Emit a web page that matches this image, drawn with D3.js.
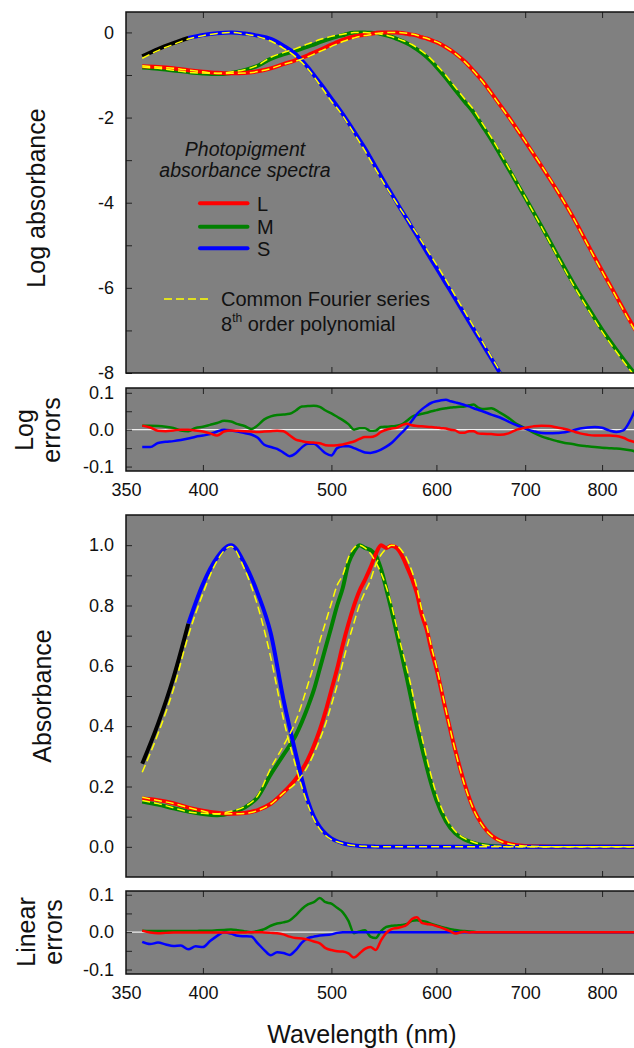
<!DOCTYPE html>
<html>
<head>
<meta charset="utf-8">
<script src="https://cdn.jsdelivr.net/npm/d3@7"></script>
<style>
  body { margin: 0; background: #fff; }
  svg { display: block; font-family: "Liberation Sans", Arial, sans-serif; }
</style>
</head>
<body>
<svg id="chart"></svg>
<script>
// ---- data ----
// wavelength grid for the spectra (nm)
const wl = [360,370,380,390,400,410,420,430,440,450,460,470,
  480,485,490,495,500,505,510,515,520,525,530,535,540,545,550,555,560,565,570,575,580,585,590,595,600,
  610,620,630,640,650,660,670,680,690,700,720,740,760,780,800,820,840,850];

// log10 photopigment absorbance, measured
const logL = [-0.796,-0.81,-0.84,-0.886,-0.921,-0.947,-0.959,-0.951,-0.914,-0.845,-0.745,-0.648,
  -0.538,-0.475,-0.412,-0.347,-0.284,-0.229,-0.174,-0.131,-0.097,-0.071,-0.053,-0.034,-0.013,0,-0.004,-0.001,-0.004,-0.015,-0.032,-0.051,-0.076,-0.114,-0.143,-0.187,-0.229,
  -0.347,-0.495,-0.678,-0.903,-1.143,-1.42,-1.70,-1.98,-2.27,-2.56,-3.14,-3.72,-4.32,-4.97,-5.6,-6.2,-6.78,-7.05];
const logM = [-0.824,-0.854,-0.893,-0.932,-0.963,-0.979,-0.951,-0.886,-0.782,-0.62,-0.516,-0.432,
  -0.333,-0.284,-0.229,-0.18,-0.137,-0.097,-0.066,-0.027,-0.009,0,-0.004,-0.007,-0.015,-0.036,-0.068,-0.105,-0.149,-0.197,-0.252,-0.319,-0.398,-0.481,-0.577,-0.688,-0.81,
  -1.07,-1.35,-1.62,-1.88,-2.2,-2.52,-2.86,-3.2,-3.54,-3.88,-4.55,-5.22,-5.86,-6.44,-6.98,-7.45,-7.88,-8.08];
const logS = [-0.56,-0.39,-0.252,-0.131,-0.06,-0.018,0,-0.027,-0.076,-0.15,-0.31,-0.51,
  -0.82,-1.0,-1.18,-1.36,-1.55,-1.73,-1.92,-2.12,-2.32,-2.52,-2.72,-2.94,-3.16,-3.38,-3.59,-3.79,-3.99,-4.19,-4.38,-4.58,-4.77,-4.97,-5.16,-5.35,-5.53,
  -5.9,-6.26,-6.62,-6.97,-7.32,-7.66,-8.0,-8.33,-8.65,-8.95,-9.55,-10.1,-10.6,-11.1,-11.5,-11.9,-12.3,-12.5];
const sBlackEnd = 390; // S data below this wavelength drawn in black

// common Fourier series fit, log10
const fitL = [-0.785,-0.813,-0.842,-0.886,-0.926,-0.963,-0.961,-0.955,-0.92,-0.849,-0.749,-0.675,
  -0.572,-0.51,-0.449,-0.389,-0.327,-0.271,-0.214,-0.167,-0.129,-0.096,-0.073,-0.054,-0.029,-0.014,-0.005,0,-0.001,-0.008,-0.02,-0.039,-0.066,-0.105,-0.135,-0.18,-0.223,
  -0.344,-0.497,-0.686,-0.907,-1.154,-1.432,-1.714,-1.99,-2.27,-2.555,-3.129,-3.714,-4.324,-4.984,-5.616,-6.217,-6.81,-7.085];
const fitM = [-0.813,-0.844,-0.888,-0.936,-0.955,-0.961,-0.929,-0.876,-0.77,-0.584,-0.475,-0.38,
  -0.269,-0.219,-0.167,-0.128,-0.093,-0.062,-0.045,-0.018,-0.004,0,-0.004,-0.012,-0.025,-0.042,-0.065,-0.096,-0.138,-0.183,-0.228,-0.284,-0.358,-0.438,-0.531,-0.638,-0.757,
  -1.012,-1.289,-1.557,-1.812,-2.144,-2.462,-2.814,-3.168,-3.525,-3.876,-4.568,-5.251,-5.899,-6.485,-7.029,-7.501,-7.936,-8.14];
const fitS = [-0.607,-0.426,-0.283,-0.155,-0.076,-0.023,-0.002,-0.036,-0.098,-0.202,-0.372,-0.574,
  -0.858,-1.04,-1.23,-1.424,-1.62,-1.78,-1.965,-2.165,-2.37,-2.576,-2.782,-3.003,-3.22,-3.434,-3.636,-3.826,-4.012,-4.198,-4.374,-4.556,-4.728,-4.915,-5.095,-5.277,-5.453,
  -5.819,-6.186,-6.553,-6.912,-7.27,-7.619,-7.967,-8.308,-8.64,-8.95,-9.56,-10.11,-10.61,-11.1,-11.5,-11.9,-12.3,-12.45];

// wavelength grid for the residuals (nm)
const errWl = [360,365,370,375,380,385,390,395,400,405,410,415,420,425,430,435,440,445,450,455,
  460,465,470,475,480,485,490,495,500,505,510,515,520,525,530,535,540,545,550,555,
  560,565,570,575,580,585,590,595,600,605,610,615,620,625,630,635,640,645,650,
  660,670,680,690,700,710,720,730,740,750,760,770,780,790,800,810,820,830,840,850];

const logErrL = [0.011,0.006,-0.003,-0.004,-0.002,0,0,-0.002,-0.005,-0.01,-0.016,-0.005,-0.002,-0.003,-0.004,-0.005,-0.006,-0.005,-0.004,-0.003,
  -0.004,-0.015,-0.027,-0.031,-0.034,-0.035,-0.037,-0.042,-0.043,-0.042,-0.04,-0.036,-0.032,-0.025,-0.02,-0.02,-0.016,-0.006,0,0.003,
  0.005,0.012,0.016,0.012,0.01,0.009,0.008,0.007,0.006,0.004,0.003,0,-0.002,-0.008,-0.008,-0.004,-0.004,-0.01,-0.011,
  -0.012,-0.014,-0.01,0,0.005,0.009,0.011,0.01,0.006,0.002,-0.004,-0.01,-0.014,-0.016,-0.016,-0.016,-0.017,-0.022,-0.03,-0.035];
const logErrM = [0.011,0.011,0.01,0.008,0.005,-0.002,-0.004,0.005,0.008,0.013,0.018,0.024,0.022,0.015,0.01,0.002,0.012,0.028,0.036,0.04,
  0.041,0.043,0.052,0.063,0.064,0.065,0.062,0.052,0.044,0.035,0.026,0.015,0,0.004,0.004,-0.003,-0.002,0.007,0.008,0.009,
  0.011,0.014,0.024,0.035,0.04,0.043,0.046,0.05,0.053,0.056,0.058,0.06,0.061,0.062,0.063,0.066,0.068,0.06,0.056,
  0.058,0.046,0.032,0.015,0.004,-0.008,-0.018,-0.025,-0.031,-0.036,-0.039,-0.043,-0.045,-0.047,-0.049,-0.05,-0.051,-0.053,-0.056,-0.06];
const logErrS = [-0.047,-0.047,-0.036,-0.033,-0.031,-0.028,-0.024,-0.019,-0.016,-0.012,-0.005,0,-0.002,-0.005,-0.009,-0.013,-0.022,-0.041,-0.047,-0.052,
  -0.062,-0.072,-0.064,-0.048,-0.038,-0.038,-0.05,-0.064,-0.07,-0.05,-0.045,-0.045,-0.05,-0.056,-0.062,-0.063,-0.06,-0.054,-0.046,-0.036,
  -0.022,-0.008,0.006,0.024,0.042,0.055,0.065,0.073,0.077,0.08,0.081,0.077,0.074,0.071,0.067,0.063,0.058,0.054,0.05,
  0.041,0.033,0.022,0.012,0.003,-0.004,-0.009,-0.01,-0.009,-0.007,-0.002,0.003,0.006,0.007,0.005,-0.002,-0.006,-0.002,0.025,0.065];

const linErrL = [0.004,-0.001,-0.003,-0.002,-0.001,-0.001,-0.001,-0.001,-0.001,-0.001,-0.001,-0.001,-0.001,-0.001,-0.001,0,0,-0.001,-0.002,-0.003,
  -0.006,-0.012,-0.016,-0.017,-0.02,-0.025,-0.03,-0.043,-0.048,-0.051,-0.052,-0.057,-0.068,-0.057,-0.045,-0.04,-0.048,-0.022,-0.002,0.008,
  0.011,0.014,0.02,0.035,0.04,0.025,0.022,0.02,0.016,0.012,0.007,0.002,-0.004,-0.001,0.001,-0.001,0,0,0,
  0,0,0,0,0,0,0,0,0,0,0,0,0,0,0,0,0,0,0,0];
const linErrM = [0.004,0.003,0.003,0.003,0.003,0.003,0.003,0.003,0.004,0.004,0.005,0.006,0.007,0.005,0.002,0,0.003,0.008,0.017,0.023,
  0.026,0.031,0.045,0.062,0.074,0.08,0.091,0.08,0.076,0.065,0.053,0.03,-0.003,0.002,0.005,-0.012,-0.016,0.003,0.014,0.017,
  0.018,0.019,0.022,0.03,0.032,0.03,0.027,0.022,0.018,0.014,0.011,0.008,0.006,0.004,0.003,0.002,0.001,0,0,
  0,0,0,0,0,0,0,0,0,0,0,0,0,0,0,0,0,0,0,0];
const linErrS = [-0.026,-0.032,-0.028,-0.033,-0.037,-0.036,-0.046,-0.038,-0.04,-0.024,-0.01,0,-0.004,-0.01,-0.011,-0.012,-0.03,-0.048,-0.062,-0.054,
  -0.056,-0.061,-0.048,-0.028,-0.016,-0.012,-0.009,-0.008,-0.006,-0.002,0,0,0,0,0,0,0,0,0,0,
  0,0,0,0,0,0,0,0,0,0,0,0,0,0,0,0,0,0,0,
  0,0,0,0,0,0,0,0,0,0,0,0,0,0,0,0,0,0,0,0];

// axis ticks
const xTickLabels = [350, 400, 500, 600, 700, 800];
const xTickMarks = [400, 500, 600, 700, 800];
const logTicks = [0, -2, -4, -6, -8];
const logMinor = [-1, -3, -5, -7];
const absTicks = [0, 0.2, 0.4, 0.6, 0.8, 1.0];
const absMinor = [0.1, 0.3, 0.5, 0.7, 0.9];
const errTicks = [0.1, 0, -0.1];
const errMinor = [0.05, -0.05];

// ---- layout ----
const w = 634, h = 1048;
const svg = d3.select("#chart").attr("width", w).attr("height", h);
const left = 126, right = 637;
const col = { L: "#ff0000", M: "#008000", S: "#0000ff", fit: "#ffff00", bg: "#808080" };

const x = d3.scaleLog().domain([350, 850]).range([left, right]);

function panel(id, top, bottom, domain, major, minor, fmt, xLabels) {
  const y = d3.scaleLinear().domain(domain).range([bottom, top]);
  svg.append("clipPath").attr("id", id)
    .append("rect").attr("x", left).attr("y", top)
    .attr("width", right - left).attr("height", bottom - top);
  svg.append("rect")
    .attr("x", left).attr("y", top)
    .attr("width", right - left).attr("height", bottom - top)
    .attr("fill", col.bg);
  const g = svg.append("g").attr("clip-path", `url(#${id})`);

  // y ticks, pointing inward
  svg.append("g").attr("transform", `translate(${left},0)`)
    .call(d3.axisLeft(y).tickValues(major).tickSize(-6).tickPadding(12).tickFormat(fmt));
  svg.append("g").attr("transform", `translate(${left},0)`)
    .call(d3.axisLeft(y).tickValues(minor).tickSize(-6).tickFormat(""));
  // x ticks on top and bottom edges
  svg.append("g").attr("transform", `translate(0,${top})`)
    .call(d3.axisTop(x).tickValues(xTickMarks).tickSize(-6).tickFormat(""));
  const xAx = svg.append("g").attr("transform", `translate(0,${bottom})`)
    .call(d3.axisBottom(x).tickValues(xLabels ? xTickLabels : xTickMarks)
      .tickSize(-6).tickPadding(12).tickFormat(xLabels ? d3.format("d") : ""));
  if (xLabels) xAx.selectAll(".tick").filter(d => d === 350).select("line").remove();

  svg.selectAll(".domain").remove();
  svg.selectAll(".tick line").attr("stroke", "#222");
  svg.selectAll(".tick text").attr("font-size", 18).attr("fill", "#111")
    .attr("font-family", "Liberation Sans, Arial, sans-serif");
  return { g, y, top, bottom };
}

function frame(p) {
  svg.append("rect")
    .attr("x", left).attr("y", p.top)
    .attr("width", right - left).attr("height", p.bottom - p.top)
    .attr("fill", "none").attr("stroke", "#111").attr("stroke-width", 1.5);
}

const signed1 = d => d === 0 ? "0.0" : d3.format(".1f")(d).replace("−", "-");

const pLog = panel("c1", 12, 373, [-8, 0.48], logTicks, logMinor, d => String(d), false);
const pLogErr = panel("c2", 388, 471, [-0.112, 0.113], errTicks, errMinor, signed1, true);
const pAbs = panel("c3", 515, 877, [-0.1, 1.1], absTicks, absMinor, d3.format(".1f"), false);
const pLinErr = panel("c4", 891, 974, [-0.112, 0.11], errTicks, errMinor, signed1, true);

// ---- curves ----
function series(vals, tf, grid) {
  return (grid || wl).map((l, i) => [l, tf ? tf(vals[i]) : vals[i]]);
}
const pow10 = v => Math.pow(10, v);

function draw(p, data, color, width, dash) {
  const line = d3.line()
    .x(d => x(d[0])).y(d => p.y(d[1]))
    .curve(d3.curveMonotoneX);
  p.g.append("path").datum(data)
    .attr("d", line)
    .attr("fill", "none")
    .attr("stroke", color)
    .attr("stroke-width", width)
    .attr("stroke-dasharray", dash || null)
    .attr("stroke-linejoin", "round");
}

function spectra(p, tf) {
  draw(p, series(logM, tf), col.M, 4);
  draw(p, series(logL, tf), col.L, 4);
  const s = series(logS, tf);
  draw(p, s.filter(d => d[0] >= sBlackEnd), col.S, 4);
  draw(p, s.filter(d => d[0] <= sBlackEnd), "#000", 4);
  draw(p, series(fitL, tf), col.fit, 1.5, "8,4");
  draw(p, series(fitM, tf), col.fit, 1.5, "8,4");
  draw(p, series(fitS, tf), col.fit, 1.5, "8,4");
}

function residuals(p, eL, eM, eS) {
  p.g.append("line")
    .attr("x1", left).attr("x2", right)
    .attr("y1", p.y(0)).attr("y2", p.y(0))
    .attr("stroke", "#eeeeee").attr("stroke-width", 1.2);
  draw(p, series(eM, null, errWl), col.M, 2.5);
  draw(p, series(eS, null, errWl), col.S, 2.5);
  draw(p, series(eL, null, errWl), col.L, 2.5);
}

spectra(pLog, null);
spectra(pAbs, pow10);
residuals(pLogErr, logErrL, logErrM, logErrS);
residuals(pLinErr, linErrL, linErrM, linErrS);

[pLog, pLogErr, pAbs, pLinErr].forEach(frame);

// ---- axis titles ----
function vTitle(lines, cx, cy) {
  const t = svg.append("text")
    .attr("transform", `translate(${cx},${cy}) rotate(-90)`)
    .attr("text-anchor", "middle")
    .attr("font-size", 25).attr("fill", "#111");
  lines.forEach((s, i) => {
    t.append("tspan").attr("x", 0).attr("y", i * 27).text(s);
  });
}
vTitle(["Log absorbance"], 45, 198);
vTitle(["Log", "errors"], 33, 430);
vTitle(["Absorbance"], 51, 696);
vTitle(["Linear", "errors"], 35, 932);

svg.append("text")
  .attr("x", 362).attr("y", 1043)
  .attr("text-anchor", "middle")
  .attr("font-size", 25).attr("fill", "#111")
  .text("Wavelength (nm)");

// ---- legend ----
const lg = svg.append("g").attr("fill", "#111");
lg.append("text").attr("x", 245).attr("y", 156).attr("text-anchor", "middle")
  .attr("font-size", 19.5).attr("font-style", "italic").text("Photopigment");
lg.append("text").attr("x", 245).attr("y", 177).attr("text-anchor", "middle")
  .attr("font-size", 19.5).attr("font-style", "italic").text("absorbance spectra");

const legendItems = [["L", col.L, 203.3], ["M", col.M, 226.7], ["S", col.S, 248.3]];
legendItems.forEach(([name, c, yy]) => {
  lg.append("line").attr("x1", 200).attr("x2", 247.5).attr("y1", yy).attr("y2", yy)
    .attr("stroke", c).attr("stroke-width", 4).attr("stroke-linecap", "round");
  lg.append("text").attr("x", 257).attr("y", yy + 7.5).attr("font-size", 20).text(name);
});

lg.append("line").attr("x1", 164).attr("x2", 211).attr("y1", 299).attr("y2", 299)
  .attr("stroke", col.fit).attr("stroke-width", 1.5).attr("stroke-dasharray", "8,4");
lg.append("text").attr("x", 221).attr("y", 306).attr("font-size", 20).text("Common Fourier series");
const t8 = lg.append("text").attr("x", 221).attr("y", 331).attr("font-size", 20);
t8.append("tspan").text("8");
t8.append("tspan").attr("font-size", 12).attr("dy", -9).text("th");
t8.append("tspan").attr("dy", 9).text(" order polynomial");
</script>
</body>
</html>
